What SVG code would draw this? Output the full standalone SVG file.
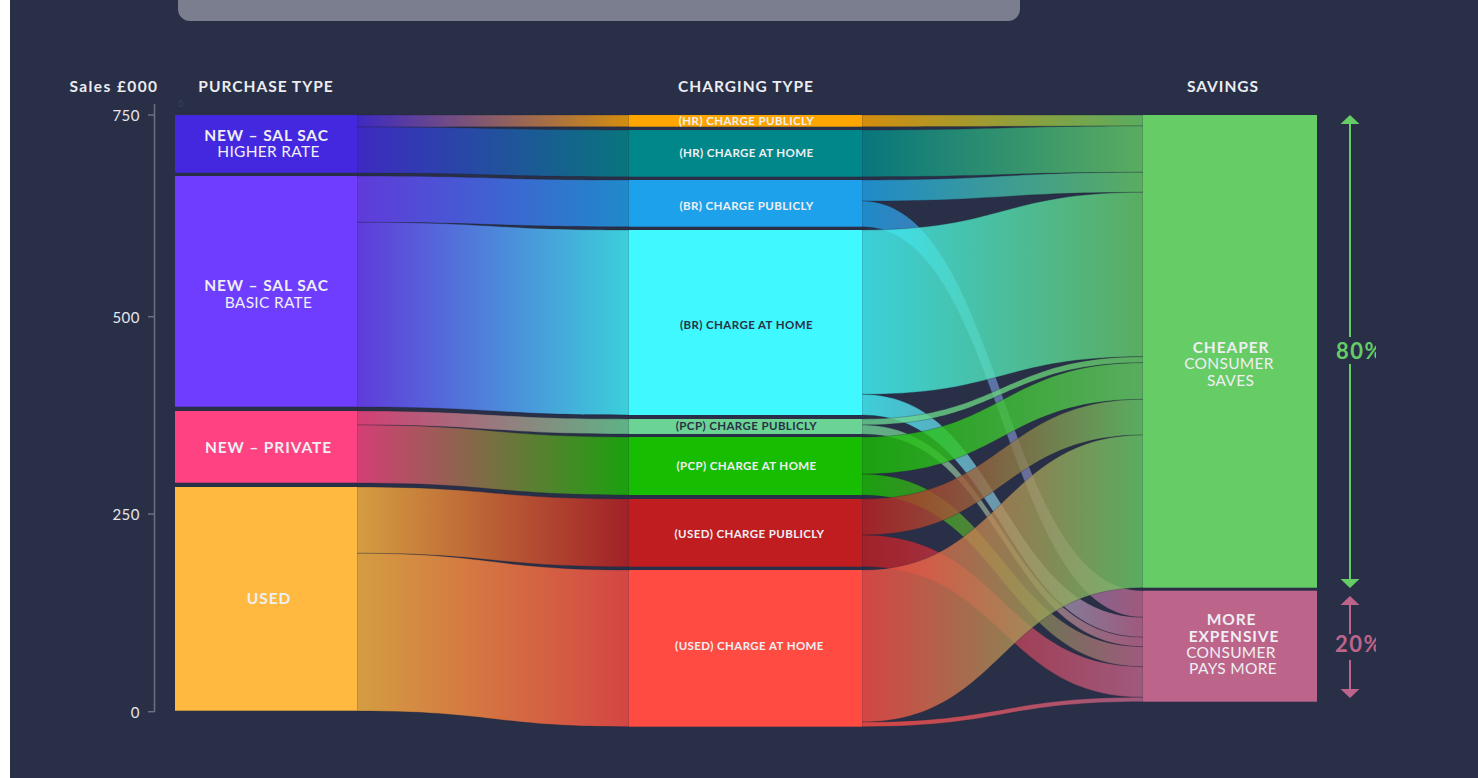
<svg xmlns="http://www.w3.org/2000/svg" width="1478" height="778" viewBox="0 0 1478 778">
<style>
text{font-family:Lato,"Open Sans","Liberation Sans",sans-serif}
.hdr{font-size:15.5px;font-weight:700;fill:#ececf0;text-anchor:middle;letter-spacing:1px}
.tick{font-size:15px;fill:#e6e6ec;text-anchor:end;letter-spacing:0.5px}
.nb{font-size:15.5px;font-weight:700;fill:#efeff3;text-anchor:middle;letter-spacing:0.9px}
.nr{font-size:15.5px;fill:#efeff3;text-anchor:middle;letter-spacing:0.3px}
.ml{font-size:11.5px;font-weight:700;fill:#efeff3;text-anchor:middle;letter-spacing:0.4px}
.md{fill:#2a3147}
.lk{fill-opacity:0.8;stroke:#1c2236;stroke-opacity:0.35;stroke-width:0.8}
.pct{font-size:22px;font-weight:700;letter-spacing:1.5px}
</style>
<defs>
<clipPath id="pc"><rect x="1300" y="0" width="76" height="778"/></clipPath>
<linearGradient id="g1" gradientUnits="userSpaceOnUse" x1="357" x2="629" y1="0" y2="0"><stop offset="0" stop-color="#4328e0"/><stop offset="1" stop-color="#ffa500"/></linearGradient>
<linearGradient id="g2" gradientUnits="userSpaceOnUse" x1="357" x2="629" y1="0" y2="0"><stop offset="0" stop-color="#4328e0"/><stop offset="1" stop-color="#00878a"/></linearGradient>
<linearGradient id="g3" gradientUnits="userSpaceOnUse" x1="357" x2="629" y1="0" y2="0"><stop offset="0" stop-color="#6e3dff"/><stop offset="1" stop-color="#1da1ea"/></linearGradient>
<linearGradient id="g4" gradientUnits="userSpaceOnUse" x1="357" x2="629" y1="0" y2="0"><stop offset="0" stop-color="#6e3dff"/><stop offset="1" stop-color="#40f8ff"/></linearGradient>
<linearGradient id="g5" gradientUnits="userSpaceOnUse" x1="357" x2="629" y1="0" y2="0"><stop offset="0" stop-color="#ff4281"/><stop offset="1" stop-color="#6bd495"/></linearGradient>
<linearGradient id="g6" gradientUnits="userSpaceOnUse" x1="357" x2="629" y1="0" y2="0"><stop offset="0" stop-color="#ff4281"/><stop offset="1" stop-color="#17bd00"/></linearGradient>
<linearGradient id="g7" gradientUnits="userSpaceOnUse" x1="357" x2="629" y1="0" y2="0"><stop offset="0" stop-color="#ffb940"/><stop offset="1" stop-color="#bf1d20"/></linearGradient>
<linearGradient id="g8" gradientUnits="userSpaceOnUse" x1="357" x2="629" y1="0" y2="0"><stop offset="0" stop-color="#ffb940"/><stop offset="1" stop-color="#ff4b42"/></linearGradient>
<linearGradient id="ha" gradientUnits="userSpaceOnUse" x1="862" x2="1143" y1="0" y2="0"><stop offset="0" stop-color="#ffa500"/><stop offset="1" stop-color="#66cc66"/></linearGradient>
<linearGradient id="hb" gradientUnits="userSpaceOnUse" x1="862" x2="1143" y1="0" y2="0"><stop offset="0" stop-color="#00878a"/><stop offset="1" stop-color="#66cc66"/></linearGradient>
<linearGradient id="hc" gradientUnits="userSpaceOnUse" x1="862" x2="1143" y1="0" y2="0"><stop offset="0" stop-color="#1da1ea"/><stop offset="1" stop-color="#66cc66"/></linearGradient>
<linearGradient id="hd" gradientUnits="userSpaceOnUse" x1="862" x2="1143" y1="0" y2="0"><stop offset="0" stop-color="#1da1ea"/><stop offset="1" stop-color="#bd648a"/></linearGradient>
<linearGradient id="he" gradientUnits="userSpaceOnUse" x1="862" x2="1143" y1="0" y2="0"><stop offset="0" stop-color="#40f8ff"/><stop offset="1" stop-color="#66cc66"/></linearGradient>
<linearGradient id="hf" gradientUnits="userSpaceOnUse" x1="862" x2="1143" y1="0" y2="0"><stop offset="0" stop-color="#40f8ff"/><stop offset="1" stop-color="#bd648a"/></linearGradient>
<linearGradient id="hg" gradientUnits="userSpaceOnUse" x1="862" x2="1143" y1="0" y2="0"><stop offset="0" stop-color="#6bd495"/><stop offset="1" stop-color="#66cc66"/></linearGradient>
<linearGradient id="hh" gradientUnits="userSpaceOnUse" x1="862" x2="1143" y1="0" y2="0"><stop offset="0" stop-color="#6bd495"/><stop offset="1" stop-color="#bd648a"/></linearGradient>
<linearGradient id="hi" gradientUnits="userSpaceOnUse" x1="862" x2="1143" y1="0" y2="0"><stop offset="0" stop-color="#17bd00"/><stop offset="1" stop-color="#66cc66"/></linearGradient>
<linearGradient id="hj" gradientUnits="userSpaceOnUse" x1="862" x2="1143" y1="0" y2="0"><stop offset="0" stop-color="#17bd00"/><stop offset="1" stop-color="#bd648a"/></linearGradient>
<linearGradient id="hk" gradientUnits="userSpaceOnUse" x1="862" x2="1143" y1="0" y2="0"><stop offset="0" stop-color="#bf1d20"/><stop offset="1" stop-color="#66cc66"/></linearGradient>
<linearGradient id="hl" gradientUnits="userSpaceOnUse" x1="862" x2="1143" y1="0" y2="0"><stop offset="0" stop-color="#bf1d20"/><stop offset="1" stop-color="#bd648a"/></linearGradient>
<linearGradient id="hm" gradientUnits="userSpaceOnUse" x1="862" x2="1143" y1="0" y2="0"><stop offset="0" stop-color="#ff4b42"/><stop offset="1" stop-color="#66cc66"/></linearGradient>
<linearGradient id="hn" gradientUnits="userSpaceOnUse" x1="862" x2="1143" y1="0" y2="0"><stop offset="0" stop-color="#ff4b42"/><stop offset="1" stop-color="#bd648a"/></linearGradient>
</defs>

<rect x="0" y="0" width="1478" height="778" fill="#ffffff"/>
<rect x="10" y="-20" width="1490" height="810" rx="10" fill="#282f47"/>
<rect x="178" y="-30" width="842" height="51" rx="12" fill="#7a7e8f"/>

<g id="axis">
<line x1="154.5" y1="104" x2="154.5" y2="712" stroke="#6b7085" stroke-width="1.5"/>
<line x1="148" y1="115" x2="154.5" y2="115" stroke="#6b7085" stroke-width="1.5"/>
<line x1="148" y1="316.7" x2="154.5" y2="316.7" stroke="#6b7085" stroke-width="1.5"/>
<line x1="148" y1="514" x2="154.5" y2="514" stroke="#6b7085" stroke-width="1.5"/>
<line x1="148" y1="711.7" x2="154.5" y2="711.7" stroke="#6b7085" stroke-width="1.5"/>
<text class="tick" x="140" y="120.7">750</text>
<text class="tick" x="140" y="322.5">500</text>
<text class="tick" x="140" y="520">250</text>
<text class="tick" x="140" y="718">0</text>
<text x="178" y="107" font-size="9" fill="#3b4257">0</text>
</g>

<g id="headers">
<text class="hdr" x="114" y="92" style="letter-spacing:1.4px">Sales £000</text>
<text class="hdr" x="266" y="92">PURCHASE TYPE</text>
<text class="hdr" x="746" y="92">CHARGING TYPE</text>
<text class="hdr" x="1223" y="92">SAVINGS</text>
</g>

<g id="connectors">
<path class="lk" fill="url(#g1)" d="M357,115 C493,115 493,115 629,115 L629,126.7 C493,126.7 493,127 357,127 Z"/>
<path class="lk" fill="url(#g2)" d="M357,127 C493,127 493,130 629,130 L629,176.7 C493,176.7 493,173 357,173 Z"/>
<path class="lk" fill="url(#g3)" d="M357,176 C493,176 493,180 629,180 L629,226.7 C493,226.7 493,222.3 357,222.3 Z"/>
<path class="lk" fill="url(#g4)" d="M357,222.3 C493,222.3 493,230 629,230 L629,415 C493,415 493,407 357,407 Z"/>
<path class="lk" fill="url(#g5)" d="M357,411 C493,411 493,419 629,419 L629,434 C493,434 493,425 357,425 Z"/>
<path class="lk" fill="url(#g6)" d="M357,425 C493,425 493,437 629,437 L629,495 C493,495 493,483 357,483 Z"/>
<path class="lk" fill="url(#g7)" d="M357,487 C493,487 493,499 629,499 L629,566.7 C493,566.7 493,553.3 357,553.3 Z"/>
<path class="lk" fill="url(#g8)" d="M357,553.3 C493,553.3 493,570 629,570 L629,726.7 C493,726.7 493,711 357,711 Z"/>

<path class="lk" fill="url(#ha)" d="M862,115 C1002.5,115 1002.5,115 1143,115 L1143,126 C1002.5,126 1002.5,126.7 862,126.7 Z"/>
<path class="lk" fill="url(#hb)" d="M862,130 C1002.5,130 1002.5,126 1143,126 L1143,172.3 C1002.5,172.3 1002.5,176.7 862,176.7 Z"/>
<path class="lk" fill="url(#hc)" d="M862,180 C1002.5,180 1002.5,172.3 1143,172.3 L1143,192.3 C1002.5,192.3 1002.5,201 862,201 Z"/>
<path class="lk" fill="url(#hd)" d="M862,201 C1002.5,201 1002.5,590.7 1143,590.7 L1143,617.3 C1002.5,617.3 1002.5,226.7 862,226.7 Z"/>
<path class="lk" fill="url(#he)" d="M862,230 C1002.5,230 1002.5,192.3 1143,192.3 L1143,356.7 C1002.5,356.7 1002.5,394.3 862,394.3 Z"/>
<path class="lk" fill="url(#hf)" d="M862,394.3 C1002.5,394.3 1002.5,617.3 1143,617.3 L1143,637.3 C1002.5,637.3 1002.5,415 862,415 Z"/>
<path class="lk" fill="url(#hg)" d="M862,419 C1002.5,419 1002.5,356.7 1143,356.7 L1143,362.7 C1002.5,362.7 1002.5,425 862,425 Z"/>
<path class="lk" fill="url(#hh)" d="M862,425 C1002.5,425 1002.5,637.3 1143,637.3 L1143,646.7 C1002.5,646.7 1002.5,434 862,434 Z"/>
<path class="lk" fill="url(#hi)" d="M862,437 C1002.5,437 1002.5,362.7 1143,362.7 L1143,399.3 C1002.5,399.3 1002.5,474 862,474 Z"/>
<path class="lk" fill="url(#hj)" d="M862,474 C1002.5,474 1002.5,646.7 1143,646.7 L1143,666.7 C1002.5,666.7 1002.5,495 862,495 Z"/>
<path class="lk" fill="url(#hk)" d="M862,499 C1002.5,499 1002.5,399.3 1143,399.3 L1143,435 C1002.5,435 1002.5,535 862,535 Z"/>
<path class="lk" fill="url(#hl)" d="M862,535 C1002.5,535 1002.5,666.7 1143,666.7 L1143,697.3 C1002.5,697.3 1002.5,566.7 862,566.7 Z"/>
<path class="lk" fill="url(#hm)" d="M862,570 C1002.5,570 1002.5,435 1143,435 L1143,587.7 C1002.5,587.7 1002.5,722 862,722 Z"/>
<path class="lk" fill="url(#hn)" d="M862,722 C1002.5,722 1002.5,697.3 1143,697.3 L1143,701.7 C1002.5,701.7 1002.5,726.7 862,726.7 Z"/>
</g>

<g id="node-new-hr">
<rect x="175" y="115" width="182" height="57.7" fill="#4328e0"/>
<text class="nb" x="266.5" y="141">NEW – SAL SAC</text>
<text class="nr" x="268.5" y="157.3">HIGHER RATE</text>
</g>
<g id="node-new-br">
<rect x="175" y="176" width="182" height="230.7" fill="#6e3dff"/>
<text class="nb" x="266.5" y="291.3">NEW – SAL SAC</text>
<text class="nr" x="268.5" y="308.3">BASIC RATE</text>
</g>
<g id="node-new-private">
<rect x="175" y="411" width="182" height="71.7" fill="#ff4281"/>
<text class="nb" x="268.5" y="453.3">NEW – PRIVATE</text>
</g>
<g id="node-used">
<rect x="175" y="487" width="182" height="223.7" fill="#ffb940"/>
<text class="nb" x="269" y="604">USED</text>
</g>

<g id="node-hr-public">
<rect x="629" y="115" width="233" height="11.7" fill="#ffa500"/>
<text class="ml" x="746.5" y="125">(HR) CHARGE PUBLICLY</text>
</g>
<g id="node-hr-home">
<rect x="629" y="130" width="233" height="46.7" fill="#00878a"/>
<text class="ml" x="746.5" y="157.3">(HR) CHARGE AT HOME</text>
</g>
<g id="node-br-public">
<rect x="629" y="180" width="233" height="46.7" fill="#1da1ea"/>
<text class="ml" x="746.5" y="210">(BR) CHARGE PUBLICLY</text>
</g>
<g id="node-br-home">
<rect x="629" y="230" width="233" height="185" fill="#40f8ff"/>
<text class="ml md" x="746.5" y="329.3">(BR) CHARGE AT HOME</text>
</g>
<g id="node-pcp-public">
<rect x="629" y="419" width="233" height="15" fill="#6bd495"/>
<text class="ml md" x="746.5" y="430">(PCP) CHARGE PUBLICLY</text>
</g>
<g id="node-pcp-home">
<rect x="629" y="437" width="233" height="58" fill="#17bd00"/>
<text class="ml" x="746.5" y="470">(PCP) CHARGE AT HOME</text>
</g>
<g id="node-used-public">
<rect x="629" y="499" width="233" height="67.7" fill="#bf1d20"/>
<text class="ml" x="749.5" y="538">(USED) CHARGE PUBLICLY</text>
</g>
<g id="node-used-home">
<rect x="629" y="570" width="233" height="156.7" fill="#ff4b42"/>
<text class="ml" x="749.5" y="650">(USED) CHARGE AT HOME</text>
</g>

<g id="node-cheaper">
<rect x="1143" y="115" width="174" height="472.7" fill="#66cc66"/>
<text class="nb" x="1231" y="352.7">CHEAPER</text>
<text class="nr" x="1229" y="369.3">CONSUMER</text>
<text class="nr" x="1230.5" y="385.7">SAVES</text>
</g>
<g id="node-expensive">
<rect x="1143" y="590.7" width="174" height="111" fill="#bd648a"/>
<text class="nb" x="1231.5" y="625">MORE</text>
<text class="nb" x="1234" y="641.7">EXPENSIVE</text>
<text class="nr" x="1231" y="657.7">CONSUMER</text>
<text class="nr" x="1233" y="674.3">PAYS MORE</text>
</g>

<g id="share-cheaper">
<line x1="1350" y1="122" x2="1350" y2="337" stroke="#66cc66" stroke-width="2"/>
<line x1="1350" y1="364" x2="1350" y2="581" stroke="#66cc66" stroke-width="2"/>
<polygon points="1350,115 1340.5,124 1359.5,124" fill="#66cc66"/>
<polygon points="1350,588 1340.5,579 1359.5,579" fill="#66cc66"/>
<text class="pct" x="1336" y="359" fill="#66cc66" clip-path="url(#pc)">80%</text>
</g>
<g id="share-expensive">
<line x1="1350" y1="603" x2="1350" y2="634" stroke="#bd648a" stroke-width="2"/>
<line x1="1350" y1="660" x2="1350" y2="691" stroke="#bd648a" stroke-width="2"/>
<polygon points="1350,596 1340.5,605 1359.5,605" fill="#bd648a"/>
<polygon points="1350,698 1340.5,689 1359.5,689" fill="#bd648a"/>
<text class="pct" x="1335" y="652" fill="#bd648a" clip-path="url(#pc)">20%</text>
</g>
</svg>
